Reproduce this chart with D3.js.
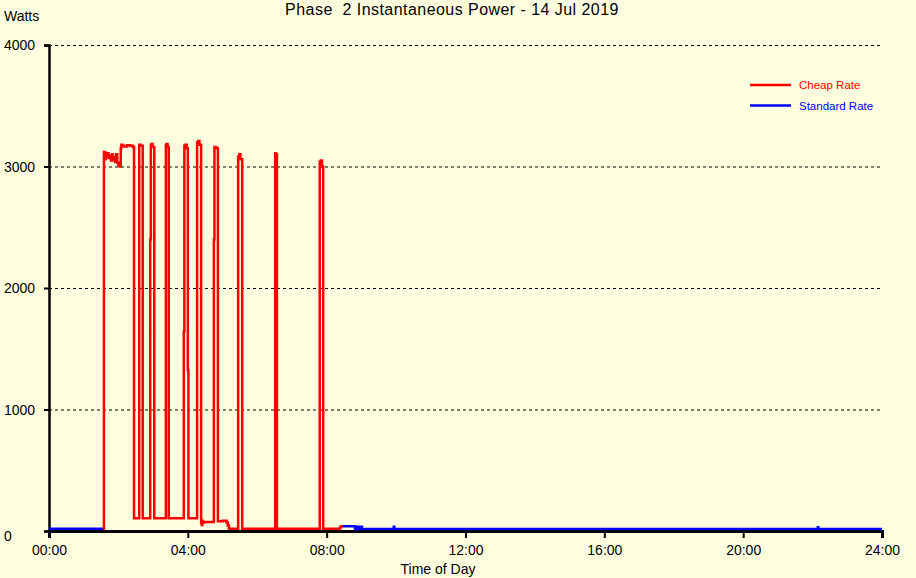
<!DOCTYPE html>
<html>
<head>
<meta charset="utf-8">
<script src="https://cdn.jsdelivr.net/npm/d3@7"></script>
<style>
  html, body { margin: 0; padding: 0; background: #FFFFE0; }
  svg { display: block; }
  text { font-family: "Liberation Sans", Arial, sans-serif; }
</style>
</head>
<body>
<svg id="chart" width="916" height="578"></svg>
<script>
// ---- Data (minutes after midnight, watts) ----
const cheapMinutes = [94, 95, 97, 98, 100, 101, 103, 105, 107, 109, 110, 112, 114, 116, 118, 120, 122, 124, 125, 127, 130, 135, 140, 145, 147,
  156, 158, 162, 175, 176, 177, 179, 182, 202, 203, 205, 207, 233, 234, 236, 238, 240, 241,
  256, 258, 260, 263, 264, 265, 266, 268, 285, 286, 289, 292, 300, 307, 309, 311,
  327, 329, 331, 334, 391, 392, 394, 468, 470, 472, 474, 503, 505, 508];
const cheapWatts = [18, 3120, 3060, 3100, 3080, 3110, 3070, 3090, 3050, 3100, 3060, 3080, 3040, 3100, 3030, 3010, 3000, 3150, 3180, 3170, 3165, 3175, 3170, 3160, 105,
  3180, 3170, 105, 2400, 3170, 3185, 3160, 105, 3175, 3185, 3160, 105, 1645, 3170, 3180, 3150, 1325, 105,
  3200, 3210, 3180, 70, 50, 85, 70, 75, 2400, 3160, 3150, 80, 85, 70, 45, 18,
  3080, 3100, 3060, 18, 3110, 3100, 18, 3040, 3050, 3000, 18, 30, 40, 40];

const standardMinutes = [0, 95, 96, 507, 529, 531, 533, 535, 537, 539, 541, 596, 597, 1329, 1330, 1440];
const standardWatts = [18, 18, null, 40, 12, 35, 16, 35, 16, 35, 16, 35, 16, 30, 16, 16];

const xTickMinutes = [0, 240, 480, 720, 960, 1200, 1440];
const xTickLabels = ["00:00", "04:00", "08:00", "12:00", "16:00", "20:00", "24:00"];
const yTicks = [0, 1000, 2000, 3000, 4000];
const seriesNames = ["Cheap Rate", "Standard Rate"];
const seriesColors = ["#FF0000", "#0000FF"];

// ---- Chart ----
const svg = d3.select("#chart");
const x = d3.scaleLinear().domain([0, 1440]).range([49, 882]);
const y = d3.scaleLinear().domain([0, 4000]).range([531, 45]);

// gridlines
svg.append("g").selectAll("line")
  .data(yTicks.filter(v => v > 0))
  .join("line")
  .attr("x1", x(0)).attr("x2", x(1440))
  .attr("y1", d => y(d) + 0.5).attr("y2", d => y(d) + 0.5)
  .attr("stroke", "#000").attr("stroke-width", 1)
  .attr("stroke-dasharray", "3,3");

// y axis
const yAxis = svg.append("g")
  .attr("transform", `translate(${x(0)},0)`)
  .call(d3.axisLeft(y).tickValues(yTicks).tickSize(5).tickFormat(d3.format("d")));
yAxis.select(".domain").attr("stroke", "#000").attr("stroke-width", 2.5);
yAxis.selectAll(".tick line").attr("stroke", "#000").attr("stroke-width", 2);
yAxis.selectAll(".tick text")
  .attr("x", 4 - x(0)).attr("dy", "0.35em")
  .attr("text-anchor", "start")
  .style("font-size", "14px").style("font-family", "'Liberation Sans', Arial, sans-serif")
  .attr("fill", "#000");
yAxis.selectAll(".tick").filter(d => d === 0).select("text").attr("dy", "0.65em");

// x axis
const xAxis = svg.append("g")
  .attr("transform", `translate(0,${y(0)})`)
  .call(d3.axisBottom(x).tickValues(xTickMinutes).tickSize(7)
    .tickFormat((d, i) => xTickLabels[i]));
xAxis.select(".domain").attr("stroke", "#000").attr("stroke-width", 3);
xAxis.selectAll(".tick line").attr("stroke", "#000").attr("stroke-width", 2);
xAxis.selectAll(".tick text")
  .attr("y", 14)
  .style("font-size", "14px").style("font-family", "'Liberation Sans', Arial, sans-serif")
  .attr("fill", "#000");

// series
const cheapData = cheapMinutes.map((m, i) => ({ m, w: cheapWatts[i] }));
const standardData = standardMinutes.map((m, i) => ({ m, w: standardWatts[i] }));

const line = d3.line()
  .defined(d => d.w != null)
  .x(d => x(d.m)).y(d => y(d.w))
  .curve(d3.curveStepAfter);

svg.append("path").datum(standardData)
  .attr("d", line).attr("fill", "none")
  .attr("stroke", seriesColors[1]).attr("stroke-width", 2.5);
svg.append("path").datum(cheapData)
  .attr("d", line).attr("fill", "none")
  .attr("stroke", seriesColors[0]).attr("stroke-width", 2.5);

// title and labels
svg.append("text").attr("x", 452).attr("y", 15).attr("text-anchor", "middle")
  .style("font-size", "16px").style("letter-spacing", "0.45px").attr("fill", "#000")
  .style("white-space", "pre")
  .text("Phase  2 Instantaneous Power - 14 Jul 2019");
svg.append("text").attr("x", 4).attr("y", 21)
  .style("font-size", "14px").attr("fill", "#000").text("Watts");
svg.append("text").attr("x", 438).attr("y", 574).attr("text-anchor", "middle")
  .style("font-size", "14px").attr("fill", "#000").text("Time of Day");

// legend
const legend = svg.append("g").selectAll("g")
  .data(seriesNames)
  .join("g")
  .attr("transform", (d, i) => `translate(750,${85 + i * 20.5})`);
legend.append("line").attr("x1", 0).attr("x2", 41).attr("y1", 0).attr("y2", 0)
  .attr("stroke", (d, i) => seriesColors[i]).attr("stroke-width", 2.5);
legend.append("text").attr("x", 49).attr("y", 4)
  .style("font-size", "11.5px")
  .attr("fill", (d, i) => seriesColors[i]).text(d => d);
</script>
</body>
</html>
